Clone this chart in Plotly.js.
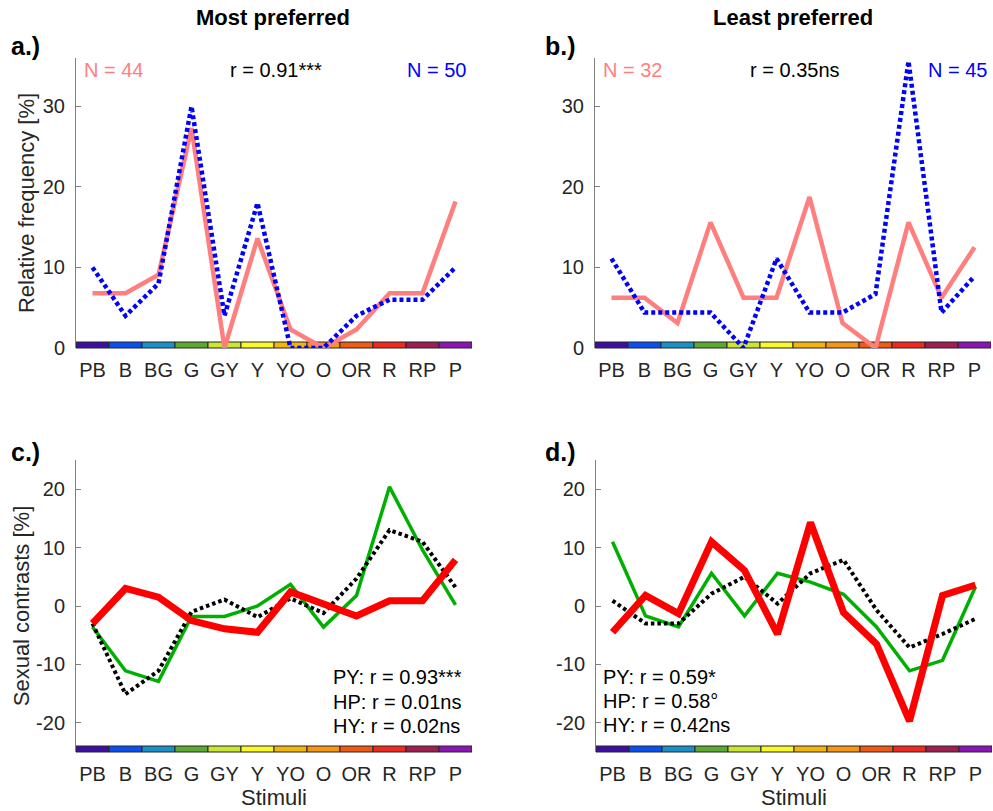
<!DOCTYPE html>
<html>
<head>
<meta charset="utf-8">
<script src="https://cdn.plot.ly/plotly-3.0.1.min.js"></script>
<style>html,body{margin:0;padding:0;background:#fff;}</style>
</head>
<body>
<div id="chart" style="width:993px;height:811px;"></div>
<script>
// ---- data ----
const stimuli = ['PB','B','BG','G','GY','Y','YO','O','OR','R','RP','P'];
const stimulusColors = ['#3c0fa0','#0a50f0','#1a90c8','#5aaa32','#c8e632','#fafa28',
                        '#f5b40a','#f59614','#f05a14','#f0281e','#a01e50','#8c14b4'];

// Panel a: most preferred, relative frequency [%]
const mostPink = [6.8, 6.8, 9.1, 27.3, 0, 13.6, 2.3, 0, 2.3, 6.8, 6.8, 18.2];   // N = 44
const mostBlue = [10, 4, 8, 30, 4, 18, 0, 0, 4, 6, 6, 10];                       // N = 50
// Panel b: least preferred, relative frequency [%]
const leastPink = [6.25, 6.25, 3.1, 15.6, 6.25, 6.25, 18.75, 3.1, 0, 15.6, 6.25, 12.5]; // N = 32
const leastBlue = [11.1, 4.4, 4.4, 4.4, 0, 11.1, 4.4, 4.4, 6.7, 35.6, 4.4, 8.9];       // N = 45

// Panel c: most preferred, sexual contrasts [%]
const mostGreen = [-3.6, -11.1, -12.9, -1.8, -1.8, 0, 3.7, -3.6, 1.8, 20.4, 9.6, 0.2];
const mostBlack = [-3.0, -15.1, -11.1, -1.0, 1.1, -1.9, 1.3, -1.2, 4.7, 13.0, 11.0, 3.2];
const mostRed   = [-3.0, 3.0, 1.5, -2.5, -3.9, -4.5, 2.4, 0.3, -1.7, 0.9, 0.9, 7.9];
// Panel d: least preferred, sexual contrasts [%]
const leastGreen = [11.0, -1.7, -3.6, 5.6, -1.7, 5.6, 4.1, 2.0, -3.6, -11.1, -9.3, 3.3];
const leastBlack = [0.9, -3.0, -3.0, 2.1, 5.0, 0.4, 5.6, 7.9, -0.7, -7.1, -4.8, -2.2];
const leastRed   = [-4.5, 1.8, -1.3, 11.0, 6.1, -4.8, 14.3, -1.1, -6.5, -19.7, 1.8, 3.6];

const freqTicks = [0, 10, 20, 30];
const contrastTicks = [-20, -10, 0, 10, 20];

// ---- layout helpers ----
const W = 993, H = 811;
const px = p => p / W;
const py = p => 1 - p / H;

const pink = '#ff7f7f', blue = '#0000ff', green = '#00b000', red = '#ff0000', black = '#000000';
const textCol = '#262626';
const F = 'Liberation Sans, Arial, sans-serif';

function line(xa, ya, y, color, width, dash) {
  return {x: stimuli, y: y, xaxis: xa, yaxis: ya, type: 'scatter', mode: 'lines',
          line: {color: color, width: width, dash: dash || 'solid'}, hoverinfo: 'x+y', showlegend: false};
}

const data = [
  line('x', 'y', mostPink, pink, 4.5),
  line('x', 'y', mostBlue, blue, 4.5, '4px,3px'),
  line('x2', 'y2', leastPink, pink, 4.5),
  line('x2', 'y2', leastBlue, blue, 4.5, '4px,3px'),
  line('x3', 'y3', mostGreen, green, 3.5),
  line('x3', 'y3', mostBlack, black, 4, '3.5px,3px'),
  line('x3', 'y3', mostRed, red, 7),
  line('x4', 'y4', leastGreen, green, 3.5),
  line('x4', 'y4', leastBlack, black, 4, '3.5px,3px'),
  line('x4', 'y4', leastRed, red, 7)
];

const panels = [
  {xa: 'x', ya: 'y', x0: 76, x1: 472, y0: 58, y1: 348},
  {xa: 'x2', ya: 'y2', x0: 595, x1: 991, y0: 58, y1: 348},
  {xa: 'x3', ya: 'y3', x0: 76, x1: 472, y0: 460, y1: 752},
  {xa: 'x4', ya: 'y4', x0: 596, x1: 992, y0: 460, y1: 752}
];

function xAxis(p, title) {
  const ax = {
    domain: [px(p.x0), px(p.x1)], anchor: p.ya, type: 'category',
    range: [-0.5, stimuli.length - 0.5], showline: false, showgrid: false, zeroline: false,
    ticks: '', tickfont: {family: F, size: 20, color: textCol},
    ticklabelstandoff: 8, fixedrange: true
  };
  if (title) ax.title = {text: title, font: {family: F, size: 22, color: textCol}, standoff: 4};
  return ax;
}
function yAxis(p, range, ticks, title, standoff) {
  const ax = {
    domain: [py(p.y1), py(p.y0)], anchor: p.xa, range: range,
    showline: true, linecolor: '#808080', linewidth: 1, mirror: false,
    ticks: 'inside', ticklen: 5, tickcolor: '#808080', tickwidth: 1,
    tickvals: ticks, ticktext: ticks.map(String),
    showgrid: false, zeroline: false, ticklabelstandoff: 6,
    tickfont: {family: F, size: 20, color: textCol}, fixedrange: true
  };
  if (title) ax.title = {text: title, font: {family: F, size: 22, color: textCol}, standoff: standoff};
  return ax;
}

const shapes = [];
panels.forEach(p => {
  const h = 6 / (p.y1 - p.y0);
  stimulusColors.forEach((c, i) => {
    shapes.push({type: 'rect', xref: p.xa, yref: p.ya + ' domain', x0: i - 0.5, x1: i + 0.5, y0: 0, y1: h,
                 fillcolor: c, line: {color: '#262626', width: 1}, layer: 'below'});
  });
});

function ann(text, x, y, opts) {
  return Object.assign({text: text, xref: 'paper', yref: 'paper', x: px(x), y: py(y), showarrow: false,
    xanchor: 'center', yanchor: 'middle', font: {family: F, size: 20, color: textCol}}, opts || {});
}

const annotations = [
  ann('<b>Most preferred</b>', 273, 18, {font: {family: F, size: 22, color: '#000'}}),
  ann('<b>Least preferred</b>', 793, 18, {font: {family: F, size: 22, color: '#000'}}),
  ann('<b>a.)</b>', 9, 46, {xanchor: 'left', font: {family: F, size: 25, color: '#000'}}),
  ann('<b>b.)</b>', 543, 46, {xanchor: 'left', font: {family: F, size: 25, color: '#000'}}),
  ann('<b>c.)</b>', 9, 452, {xanchor: 'left', font: {family: F, size: 25, color: '#000'}}),
  ann('<b>d.)</b>', 543, 452, {xanchor: 'left', font: {family: F, size: 25, color: '#000'}}),
  ann('N = 44', 82, 70, {xanchor: 'left', font: {family: F, size: 20, color: pink}}),
  ann('r = 0.91***', 276, 70, {font: {family: F, size: 20, color: '#000'}}),
  ann('N = 50', 468, 70, {xanchor: 'right', font: {family: F, size: 20, color: blue}}),
  ann('N = 32', 601, 70, {xanchor: 'left', font: {family: F, size: 20, color: pink}}),
  ann('r = 0.35ns', 795, 70, {font: {family: F, size: 20, color: '#000'}}),
  ann('N = 45', 989, 70, {xanchor: 'right', font: {family: F, size: 20, color: blue}}),
  ann('PY: r = 0.93***', 331, 677, {xanchor: 'left', font: {family: F, size: 20, color: '#000'}}),
  ann('HP: r = 0.01ns', 331, 702, {xanchor: 'left', font: {family: F, size: 20, color: '#000'}}),
  ann('HY: r = 0.02ns', 331, 726, {xanchor: 'left', font: {family: F, size: 20, color: '#000'}}),
  ann('PY: r = 0.59*', 601, 677, {xanchor: 'left', font: {family: F, size: 20, color: '#000'}}),
  ann('HP: r = 0.58°', 601, 701, {xanchor: 'left', font: {family: F, size: 20, color: '#000'}}),
  ann('HY: r = 0.42ns', 601, 725, {xanchor: 'left', font: {family: F, size: 20, color: '#000'}})
];

const layout = {
  width: W, height: H, margin: {l: 0, r: 0, t: 0, b: 0},
  paper_bgcolor: '#ffffff', plot_bgcolor: 'rgba(0,0,0,0)',
  font: {family: F, size: 20, color: textCol},
  showlegend: false,
  xaxis: xAxis(panels[0]), yaxis: yAxis(panels[0], [0, 36], freqTicks, 'Relative frequency [%]', 2),
  xaxis2: xAxis(panels[1]), yaxis2: yAxis(panels[1], [0, 36], freqTicks),
  xaxis3: xAxis(panels[2], 'Stimuli'), yaxis3: yAxis(panels[2], [-25, 25], contrastTicks, 'Sexual contrasts [%]', 0),
  xaxis4: xAxis(panels[3], 'Stimuli'), yaxis4: yAxis(panels[3], [-25, 25], contrastTicks),
  shapes: shapes, annotations: annotations
};

Plotly.newPlot('chart', data, layout, {displayModeBar: false, staticPlot: true});
</script>
</body>
</html>
